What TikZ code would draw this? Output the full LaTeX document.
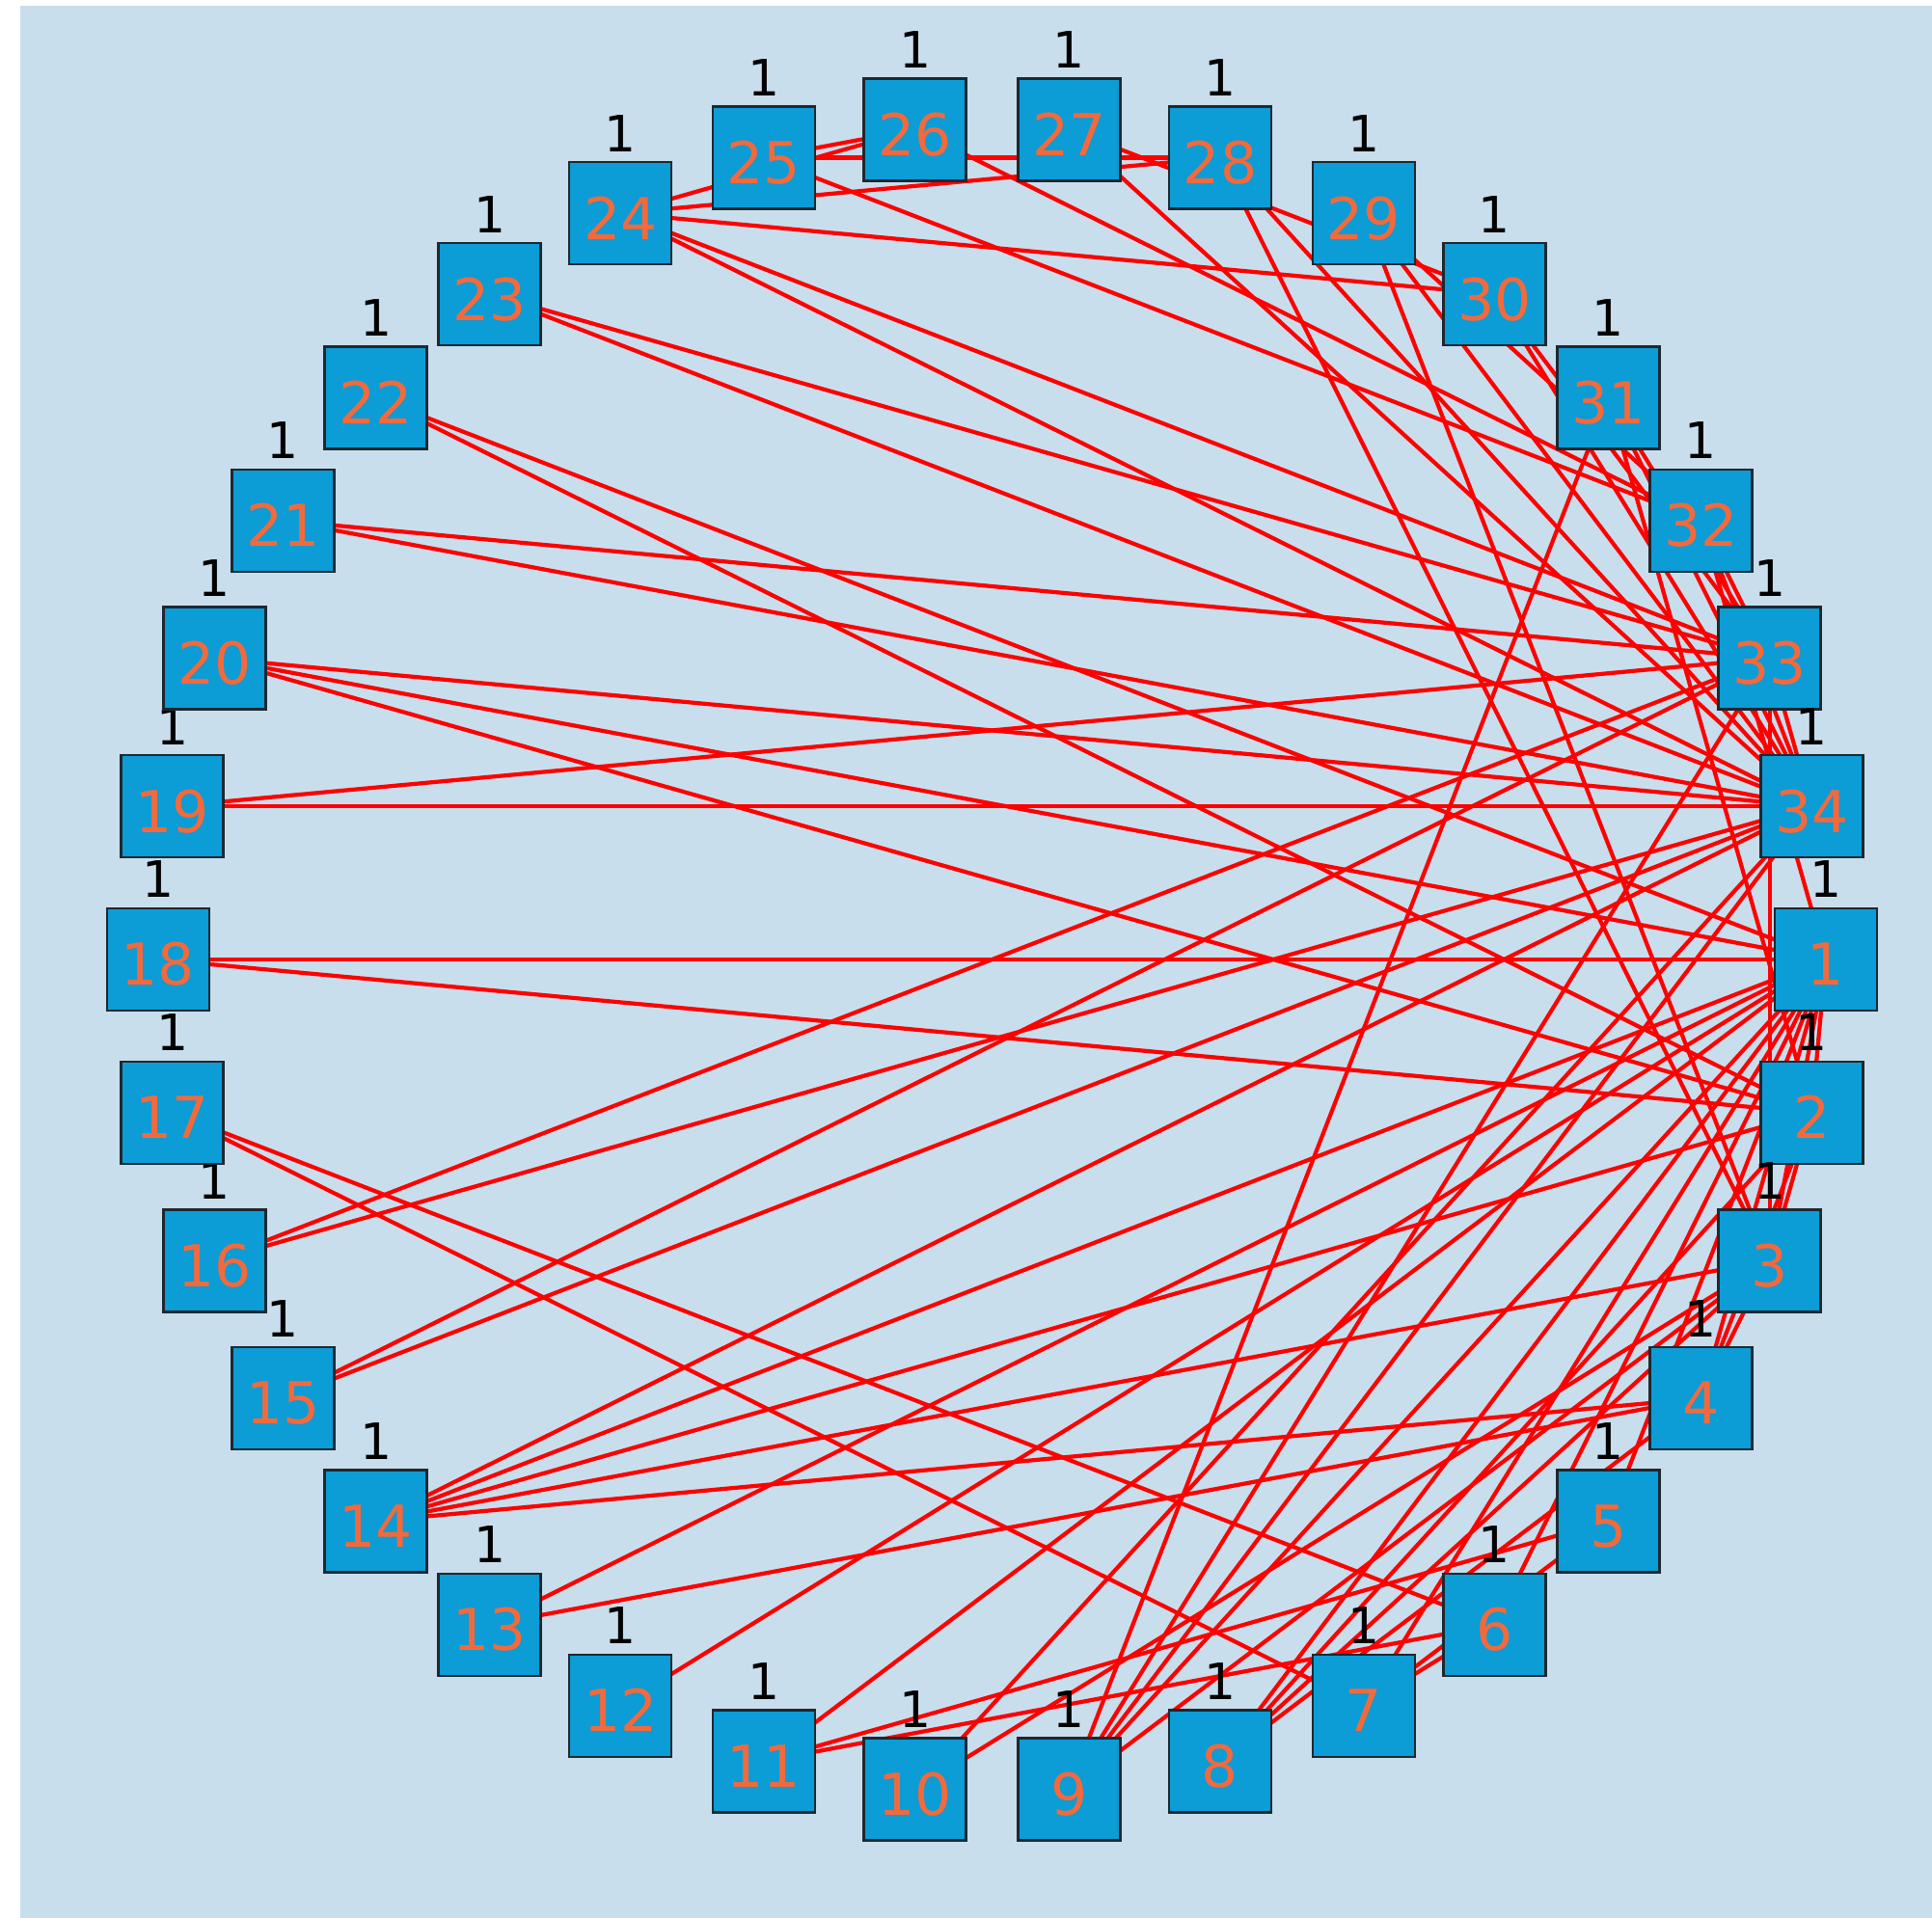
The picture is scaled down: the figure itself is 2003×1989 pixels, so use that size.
\documentclass[tikz,border=0pt]{standalone}
\usepackage{fontspec}
\setmainfont{DejaVu Sans}
\pgfdeclarelayer{bgfill}
\pgfdeclarelayer{edges}
\pgfsetlayers{bgfill,edges,main}
\definecolor{panel}{RGB}{201,222,236}
\definecolor{boxfill}{RGB}{12,156,214}
\definecolor{boxline}{RGB}{30,40,48}
\definecolor{numcol}{RGB}{242,106,60}
\tikzset{
  vert/.style={draw=boxline, line width=1.3pt, fill=boxfill, minimum width=53pt,
    minimum height=53pt, inner sep=0pt, text=numcol, text height=26.9pt, text depth=0pt,
    font=\fontsize{30}{30}\selectfont},
  wlabel/.style={inner sep=0pt, text=black, font=\fontsize{26}{26}\selectfont},
  link/.style={draw=red, line width=2.1pt}
}
\begin{document}
\begin{tikzpicture}[x=0.5pt,y=-0.5pt]
  \useasboundingbox (0,0) rectangle (2003,1989);
  \begin{pgfonlayer}{bgfill}
    \fill[panel] (21,6) rectangle (2003,1989);
  \end{pgfonlayer}
  % members placed evenly around a circle, 1 at the right, numbering clockwise
  \foreach \k in {1,...,34}{
    \pgfmathsetmacro\px{1028.5+864.5*cos((\k-1)*360/34)}
    \pgfmathsetmacro\py{995+864.5*sin((\k-1)*360/34)}
    \node[vert] (n\k) at (\px,\py) {\k};
    \node[wlabel] (w\k) at (\px,\py-83) {1};
  }
  % friendship ties
  \begin{pgfonlayer}{edges}
    \foreach \a/\b in {1/2,1/3,1/4,1/5,1/6,1/7,1/8,1/9,1/11,1/12,1/13,1/14,1/18,1/20,1/22,1/32,
      2/3,2/4,2/8,2/14,2/18,2/20,2/22,2/31,
      3/4,3/8,3/9,3/10,3/14,3/28,3/29,3/33,
      4/8,4/13,4/14,5/7,5/11,6/7,6/11,6/17,7/17,
      9/31,9/33,9/34,10/34,14/34,15/33,15/34,16/33,16/34,19/33,19/34,20/34,21/33,21/34,
      23/33,23/34,24/26,24/28,24/30,24/33,24/34,25/26,25/28,25/32,26/32,27/30,27/34,
      28/34,29/32,29/34,30/33,30/34,31/33,31/34,32/33,32/34,33/34}
      \draw[link] (n\a.center) -- (n\b.center);
  \end{pgfonlayer}
\end{tikzpicture}
\end{document}
